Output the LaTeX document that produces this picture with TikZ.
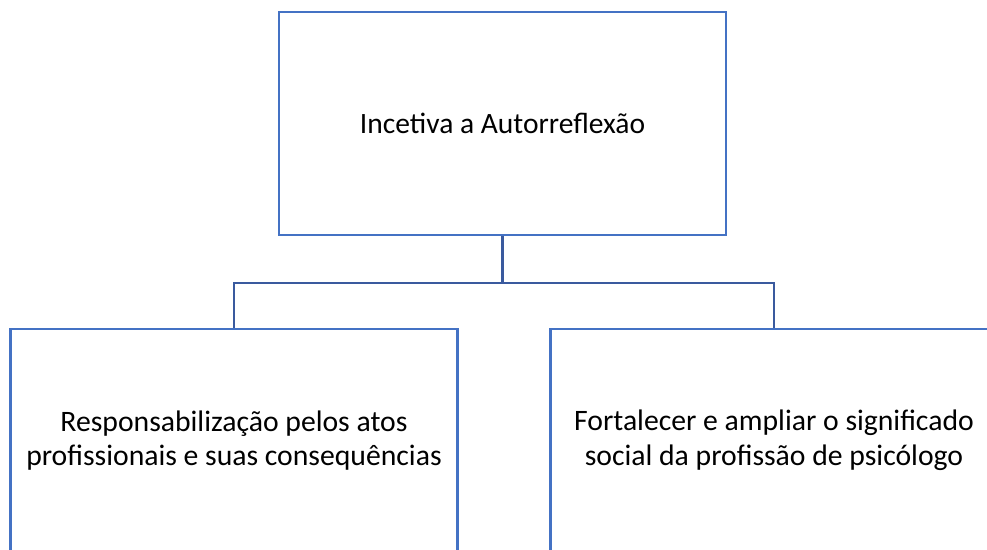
\documentclass[tikz,border=0pt]{standalone}
\usepackage{fontspec}
\setmainfont{Carlito}
\usetikzlibrary{calc,positioning}
\definecolor{boxblue}{HTML}{4472C4}
\definecolor{lineblue}{HTML}{3A5A9E}
\tikzset{
  ideabox/.style={draw=boxblue,line width=1.2pt,fill=white,
    minimum width=8.94cm,minimum height=4.46cm,align=center,inner sep=0pt},
  treeline/.style={draw=lineblue,line width=1.2pt}
}
\begin{document}
\begin{tikzpicture}[x=0.02cm,y=-0.02cm]
\useasboundingbox (0,0) rectangle (987,549);
\clip (0,0) rectangle (987,549);
%caixa de cima
\node[ideabox,font=\fontsize{16.8}{20}\selectfont] (nTop) at (502.5,123.5) {Incetiva a Autorreflexão};
%caixas de baixo
\node[ideabox,font=\fontsize{16.9}{19.8}\selectfont] (nLeft) at (234,440.5)
  {Responsabilização pelos atos\\profissionais e suas consequências};
\node[ideabox,font=\fontsize{16.9}{19.8}\selectfont] (nRight) at (774,440.5)
  {Fortalecer e ampliar o significado\\social da profissão de psicólogo};

\coordinate (cJPt) at ($(nTop.south)+(0,47)$);
\draw[treeline] (nTop.south) -- (cJPt);
\draw[treeline] (cJPt) -| (nLeft.north);
\draw[treeline] (cJPt) -| (nRight.north);
\end{tikzpicture}
\end{document}
